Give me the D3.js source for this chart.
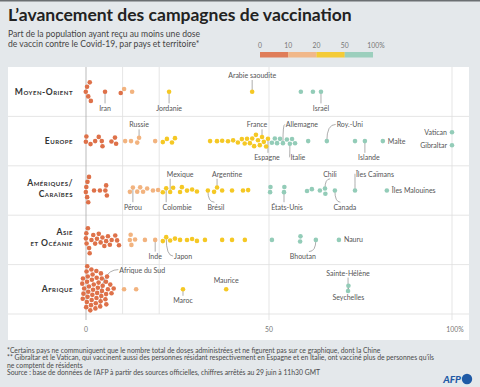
<!DOCTYPE html>
<html>
<head>
<meta charset="utf-8">
<script src="https://cdn.jsdelivr.net/npm/d3@7"></script>
<style>
  body { margin: 0; background: #e4e8eb; }
  svg { display: block; font-family: Lato, "Open Sans", sans-serif; }
</style>
</head>
<body>
<div id="chart"></div>
<script>
// regions, top to bottom
var regions = ['Moyen-Orient', 'Europe', 'Amériques/ Caraïbes', 'Asie et Océanie', 'Afrique'];

// share of population with at least one dose (%), one array per region
var moyenOrient = [0, 0.3, 0.6, 1.0, 1.3, 5.2, 9.5, 10.4, 12.6, 22.7, 45.4, 58.7, 62, 64.2];
var europe = [0, 0.1, 1.2, 2.5, 3.5, 4.3, 4.5, 7, 7.9, 8.2,
  10.7, 12.3, 14, 14.5, 18.9,
  21, 22.1, 23.5, 24.3, 33.9, 35.8, 37.2, 38.8, 40.2, 41.5,
  42.6, 43.4, 44, 44.8, 45.4, 45.9, 46.4, 47, 47.5, 48.1, 48.6, 49.2, 49.7,
  50.8, 51.6, 52.2, 53, 53.8, 54.9, 55.7, 56.3, 57.1, 60.7, 65.8, 73.5, 76.2, 81.1, 100, 100];
var ameriques = [0, 0.1, 0.3, 0.4, 0.6, 0.8, 2.2, 3.8, 5.3, 5.5, 5.7,
  12, 12.8, 14, 14.8, 15.6, 16.7, 18.3, 19.7,
  21, 21.9, 23, 23.8, 25.7, 26.2, 27.6, 29, 30.3, 33.3, 35, 35.8, 37.2, 39.9, 42.9, 44.3,
  50.3, 50.4, 54.1, 54.2, 60.4, 61.7, 63.9, 65.3, 65.4, 68, 73.5, 82.2];
var asie = [0, 0.1, 0.2, 0.5, 0.8, 1, 1.5, 2, 2.5, 3, 3.5, 4, 4.5, 5, 5.5, 6, 6.5, 7, 8, 8.5, 9,
  12, 12.2, 12.4, 13.4, 16.1, 18.9,
  21, 21.9, 23, 24.3, 25.7, 27.6, 29, 30.3, 32.5, 37.2, 39.9, 43.4,
  50.8, 58.5, 58.6, 62.8, 69.1];
var afrique = [0, 0, 0.1, 0.1, 0.2, 0.2, 0.3, 0.3, 0.4, 0.5, 0.6, 0.8,
  1, 1.1, 1.2, 1.3, 1.4, 1.5, 1.6, 1.7, 1.8, 1.9,
  2.2, 2.3, 2.4, 2.5, 2.6, 2.7, 2.8, 2.9,
  3.3, 3.4, 3.5, 3.6, 3.8, 3.9,
  4.4, 4.6, 4.8, 4.9, 5.0, 5.5, 5.7, 6.0, 6.5, 7.0, 7.5,
  10.4, 13.7, 26.5, 38.3, 71.6, 71.7];
var regionValues = [moyenOrient, europe, ameriques, asie, afrique];

// labelled countries: region index, name, value, side, shift of the text from its dot
var labels = [
  [0, 'Iran', 5.2, 'below', 0], [0, 'Jordanie', 22.7, 'below', 0],
  [0, 'Arabie saoudite', 45.4, 'above', 0], [0, 'Israël', 64.2, 'below', 0],
  [1, 'Russie', 14.5, 'above', 0], [1, 'France', 48.1, 'above', -5], [1, 'Allemagne', 53.8, 'above', 19],
  [1, 'Roy.-Uni', 65.8, 'above', 23], [1, 'Espagne', 49.7, 'below', -1], [1, 'Italie', 55.7, 'below', 8],
  [1, 'Islande', 76.2, 'below', 4], [1, 'Malte', 81.1, 'right', 0],
  [1, 'Vatican', 100, 'left', 0], [1, 'Gibraltar', 100, 'left', 0],
  [2, 'Mexique', 23, 'above', 10], [2, 'Argentine', 35.8, 'above', 10], [2, 'Chili', 65.3, 'above', 5],
  [2, 'Îles Caïmans', 73.5, 'above', 20], [2, 'Pérou', 12.8, 'below', 0], [2, 'Colombie', 21.9, 'below', 11],
  [2, 'Brésil', 33.3, 'below', 8], [2, 'États-Unis', 54.1, 'below', 3], [2, 'Canada', 68, 'below', 10],
  [2, 'Îles Malouines', 82.2, 'right', 0],
  [3, 'Inde', 18.9, 'below', 0], [3, 'Japon', 21.9, 'below', 17], [3, 'Bhoutan', 62.8, 'below', -13],
  [3, 'Nauru', 69.1, 'right', 0],
  [4, 'Afrique du Sud', 3.8, 'above', 42], [4, 'Maroc', 26.5, 'under', 0], [4, 'Maurice', 38.3, 'top', 0],
  [4, 'Sainte-Hélène', 71.6, 'above', 0], [4, 'Seychelles', 71.7, 'under', 0]
];

var legendBreaks = [0, 10, 20, 50, 100];
var axisTicks = [0, 50, 100];
var gridLines = [0, 10, 20, 50, 100];
var colors = ['#de7149', '#f2b37f', '#f5c824', '#93ccb8'];

var width = 480, height = 387,
    panel = {left: 8, right: 469, top: 67, bottom: 340},
    r = 2.3;

var x = d3.scaleLinear().domain([0, 100]).range([86, 452]);
var y = d3.scaleBand().domain(d3.range(regions.length)).range([67, 314]);
var color = d3.scaleThreshold().domain([10, 20, 50]).range(colors);

var svg = d3.select('#chart').append('svg')
    .attr('width', width)
    .attr('height', height);

svg.append('rect').attr('width', width).attr('height', height).attr('fill', '#e4e8eb');
svg.append('rect').attr('width', width).attr('height', 1.5).attr('fill', '#6b6f72');
svg.append('rect')
    .attr('x', panel.left).attr('y', panel.top)
    .attr('width', panel.right - panel.left).attr('height', panel.bottom - panel.top)
    .attr('fill', '#fff');

// title + subtitle
svg.append('text')
    .attr('x', 8).attr('y', 21)
    .attr('font-size', 17.5).attr('font-weight', 700).attr('fill', '#222')
    .text('L’avancement des campagnes de vaccination');
svg.append('text')
    .attr('font-size', 8.6).attr('fill', '#444')
  .selectAll('tspan')
  .data(['Part de la population ayant reçu au moins une dose',
         'de vaccin contre le Covid-19, par pays et territoire*'])
  .join('tspan')
    .attr('x', 8).attr('y', function (d, i) { return 37 + i * 9.5; })
    .text(function (d) { return d; });

// legend
var lx = d3.scaleLinear().domain([0, 4]).range([260, 373]);
svg.selectAll('rect.leg')
  .data(colors)
  .join('rect')
    .classed('leg', true)
    .attr('x', function (d, i) { return lx(i); })
    .attr('y', 52)
    .attr('width', lx(1) - lx(0))
    .attr('height', 5.5)
    .attr('fill', function (d) { return d; })
    .attr('opacity', 0.9);
svg.selectAll('text.leg')
  .data(legendBreaks)
  .join('text')
    .classed('leg', true)
    .attr('x', function (d, i) { return lx(i) + (i === 4 ? 3 : 0); })
    .attr('y', 47.5)
    .attr('text-anchor', 'middle')
    .attr('font-size', 6.8).attr('fill', '#777')
    .text(function (d, i) { return i === 4 ? d + '%' : d; });

// row separators
svg.selectAll('line.row')
  .data(d3.range(1, regions.length + 1))
  .join('line')
    .classed('row', true)
    .attr('x1', panel.left).attr('x2', panel.right)
    .attr('y1', function (i) { return i < regions.length ? y(i) : y.range()[1]; })
    .attr('y2', function (i) { return i < regions.length ? y(i) : y.range()[1]; })
    .attr('stroke', '#dedede').attr('stroke-width', 0.8);

// vertical grid
svg.selectAll('line.grid')
  .data(gridLines)
  .join('line')
    .classed('grid', true)
    .attr('x1', x).attr('x2', x)
    .attr('y1', panel.top)
    .attr('y2', function (d) { return axisTicks.indexOf(d) >= 0 ? 320 : 314; })
    .attr('stroke', function (d) { return d === 0 ? '#aaa' : '#dedede'; })
    .attr('stroke-width', 0.8);

svg.selectAll('text.tick')
  .data(axisTicks)
  .join('text')
    .classed('tick', true)
    .attr('x', function (d) { return x(d) + (d === 100 ? 3 : 0); })
    .attr('y', 332)
    .attr('text-anchor', 'middle')
    .attr('font-size', 6.8).attr('fill', '#777')
    .text(function (d) { return d === 100 ? '100%' : d; });

// row labels (small caps)
svg.selectAll('text.region')
  .data(regions)
  .join('text')
    .classed('region', true)
    .attr('text-anchor', 'end')
    .attr('font-size', 8.6).attr('font-weight', 700).attr('fill', '#333')
    .attr('font-variant', 'small-caps').attr('letter-spacing', 0.5)
    .each(function (d, i) {
      var parts = d.indexOf(' ') > 0 ? (i === 2 ? ['Amériques/', 'Caraïbes'] : ['Asie', 'et Océanie']) : [d];
      var cy = y(i) + y.bandwidth() / 2;
      d3.select(this).selectAll('tspan')
        .data(parts)
        .join('tspan')
          .attr('x', 73)
          .attr('y', function (p, j) { return parts.length === 1 ? cy + 3 : cy - 5 + j * 11.5; })
          .text(function (p) { return p; });
    });

// beeswarm: start from a dodge layout, then let a small simulation relax it
function dodge(nodes, cy) {
  var placed = [];
  nodes.forEach(function (n) {
    var cands = [0];
    placed.forEach(function (p) {
      var dx = Math.abs(p.x - n.x), min = p.rad + n.rad;
      if (dx < min) {
        var h = Math.sqrt(min * min - dx * dx);
        cands.push(p.dy + h, p.dy - h);
      }
    });
    cands.sort(function (a, b) { return Math.abs(a) - Math.abs(b) || a - b; });
    n.dy = cands.find(function (c) {
      return placed.every(function (p) {
        var dx = p.x - n.x, dy = p.dy - c, min = p.rad + n.rad;
        return dx * dx + dy * dy >= min * min - 0.01;
      });
    });
    n.y = cy + n.dy;
    placed.push(n);
  });
}

var swarms = regionValues.map(function (vals, i) {
  var cy0 = y(i) + y.bandwidth() / 2;
  var nodes = vals.slice().sort(d3.ascending).map(function (v) {
    return {v: v, x: x(v), rad: v >= 100 ? 6.5 : r + 0.3, row: i};
  });
  dodge(nodes, cy0);
  var sim = d3.forceSimulation(nodes)
      .force('x', d3.forceX(function (d) { return x(d.v); }).strength(0.8))
      .force('y', d3.forceY(cy0).strength(function (d) { return d.v < 10 && i === 4 ? 0.05 : 0.015; }))
      .force('collide', d3.forceCollide(function (d) { return d.rad; }).iterations(3))
      .stop();
  for (var k = 0; k < 300; k++) sim.tick();
  return nodes;
});

// labels and leaders (under the dots)
var lab = svg.append('g').attr('font-size', 7).attr('fill', '#555');
var used = [];
labels.forEach(function (l) {
  var row = l[0], side = l[3], shift = l[4];
  var dot = swarms[row]
    .filter(function (p) { return p.v === l[2] && used.indexOf(p) < 0; })
    .sort(function (a, b) { return a.y - b.y; })[0];
  used.push(dot);
  var top = y(row), bottom = top + y.bandwidth();

  if (side === 'left' || side === 'right') {
    lab.append('text')
        .attr('x', dot.x + (side === 'right' ? 5 : -5))
        .attr('y', dot.y + 2.5)
        .attr('text-anchor', side === 'right' ? 'start' : 'end')
        .text(l[1]);
    return;
  }

  var ty = {above: top + 11, top: dot.y - 6, below: bottom - 5.5, under: dot.y + 14}[side];
  if (row === 4 && side === 'above' && shift) ty = top + 8;
  var t = lab.append('text')
      .attr('x', dot.x + shift).attr('y', ty)
      .attr('text-anchor', 'middle')
      .text(l[1]);
  if (side === 'top') return;

  var w = t.node().getComputedTextLength();
  var left = dot.x + shift - w / 2, right = dot.x + shift + w / 2;
  var up = side === 'above';
  var edgeY = up ? ty + 2 : ty - 7.5;
  var p = d3.path();
  p.moveTo(dot.x, dot.y);
  if (dot.x >= left + 2 && dot.x <= right - 2) {
    p.lineTo(dot.x, edgeY);
  } else if (dot.x < left) {
    p.quadraticCurveTo(dot.x, ty - 3, left - 1, ty - 3);
  } else {
    var ex = Math.max(left + 3, Math.min(right - 3, dot.x));
    p.quadraticCurveTo(dot.x, edgeY, ex + (shift > 0 ? 4 : -4), edgeY);
  }
  lab.insert('path', 'text')
      .attr('d', p.toString())
      .attr('fill', 'none')
      .attr('stroke', '#777').attr('stroke-width', 0.6);
});

svg.append('g')
  .selectAll('g')
  .data(swarms)
  .join('g')
  .selectAll('circle')
  .data(function (d) { return d; })
  .join('circle')
    .attr('cx', function (d) { return d.x; })
    .attr('cy', function (d) { return d.y; })
    .attr('r', r)
    .attr('fill', function (d) { return color(d.v); });

// footnotes
svg.append('g')
    .attr('font-size', 6.8).attr('fill', '#4a4a4a')
  .selectAll('text')
  .data(['*Certains pays ne communiquent que le nombre total de doses administrées et ne figurent pas sur ce graphique, dont la Chine',
         '** Gibraltar et le Vatican, qui vaccinent aussi des personnes résidant respectivement en Espagne et en Italie, ont vacciné plus de personnes qu’ils',
         'ne comptent de résidents',
         'Source : base de données de l’AFP à partir des sources officielles, chiffres arrêtés au 29 juin à 11h30 GMT'])
  .join('text')
    .attr('x', 7)
    .attr('y', function (d, i) { return 352.5 + i * 7.5; })
    .text(function (d) { return d; });

// AFP logo
svg.append('text')
    .attr('x', 461).attr('y', 382.5)
    .attr('text-anchor', 'end')
    .attr('font-size', 10).attr('font-weight', 900).attr('font-style', 'italic')
    .attr('fill', '#1f5aa6')
    .text('AFP');
svg.append('circle')
    .attr('cx', 467).attr('cy', 379).attr('r', 5.2)
    .attr('fill', '#1f5aa6');
</script>
</body>
</html>
